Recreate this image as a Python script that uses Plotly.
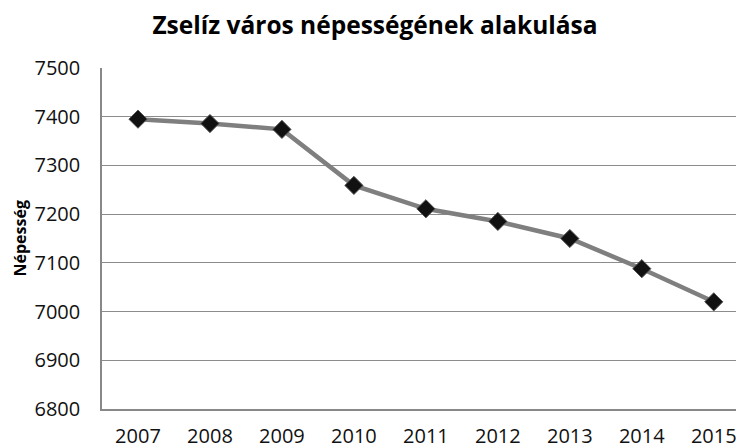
import plotly.graph_objects as go

years = ["2007", "2008", "2009", "2010", "2011", "2012", "2013", "2014", "2015"]
population = [7395, 7386, 7374, 7259, 7211, 7185, 7150, 7088, 7020]
y_ticks = [6800, 6900, 7000, 7100, 7200, 7300, 7400, 7500]

title_text = "Zselíz város népességének alakulása"
y_title = "Népesség"

# page body has an 8px default margin; figure is sized to fill the window
W, H = 736, 440
L, T, B = 94, 60, 39
PW = W - L

fig = go.Figure()
fig.add_trace(go.Scatter(
    x=years, y=population, mode="lines+markers",
    line=dict(color="#7f7f7f", width=4.5),
    marker=dict(symbol="diamond", size=14, color="#111111",
                line=dict(color="#555555", width=1)),
    cliponaxis=False,
))

fig.update_layout(
    width=W, height=H,
    margin=dict(l=L, r=0, t=T, b=B, autoexpand=False),
    paper_bgcolor="white", plot_bgcolor="white",
    showlegend=False,
    font=dict(family="Open Sans", color="#111111"),
    title=dict(text=title_text, x=(375 - 8) / W, xanchor="center",
               y=1 - 17 / H, yanchor="middle",
               font=dict(family="Open Sans", size=24.5,
                         color="#000000", weight="bold")),
    xaxis=dict(type="category", range=[-0.5, 8.42], showgrid=False,
               showline=True, linecolor="#888888", linewidth=1.5,
               ticks="", tickfont=dict(size=20, color="#111111"),
               ticklabelstandoff=8),
    yaxis=dict(range=[6800, 7500], tickvals=y_ticks, showgrid=True,
               gridcolor="#8c8c8c", gridwidth=1,
               showline=True, linecolor="#888888", linewidth=1.5,
               ticks="", tickfont=dict(size=20, color="#111111"),
               ticklabelstandoff=16, zeroline=False),
    annotations=[dict(text=y_title, xref="paper", yref="paper",
                      x=(19 - 8 - L) / PW, y=0.5, textangle=-90,
                      showarrow=False, xanchor="center", yanchor="middle",
                      font=dict(family="Open Sans", size=16,
                                color="#000000", weight="bold"))],
)

fig.write_html("out.html")
